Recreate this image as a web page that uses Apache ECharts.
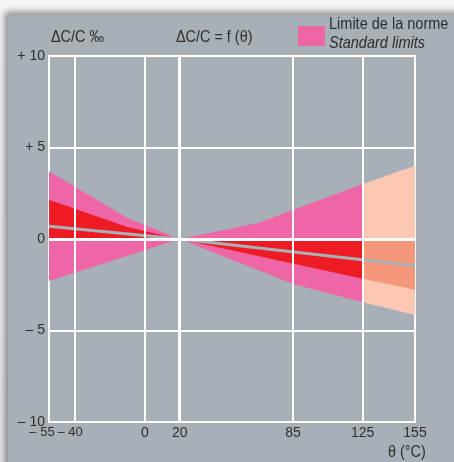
<!DOCTYPE html>
<html>
<head>
<meta charset="utf-8">
<script src="https://cdn.jsdelivr.net/npm/echarts@6/dist/echarts.min.js"></script>
<style>
  html, body { margin: 0; padding: 0; background: #f2f2f2; }
  #wrap { position: relative; width: 454px; height: 462px; overflow: hidden;
          background: linear-gradient(#f6f6f6, #e6e6e6); }
  #panel { position: absolute; left: 8px; top: 15px; width: 460px; height: 460px;
           background: #a8b0b7; box-shadow: -3px -3px 7px rgba(0,0,0,0.45); }
  #chart { position: absolute; left: 0; top: 0; width: 454px; height: 462px; }
</style>
</head>
<body>
<div id="wrap"><div id="panel"></div><div id="chart"></div></div>
<script>
// Temperature characteristic of capacitance drift, ΔC/C (‰) vs θ (°C)
const xTicks = [-55, -40, 0, 20, 85, 125, 155];
const xGridLines = [-40, 0, 85, 125];
const yTicks = [-10, -5, 0, 5, 10];

// Standard limits (pink) over -55..125 °C
const limitUpper = [[-55, 3.7], [-10, 1.15], [20, 0], [65, 0.87], [125, 3.0]];
const limitLower = [[-55, -2.3], [20, 0], [85, -2.46], [125, -3.45]];
// Extended range limits (125..155 °C)
const limitUpperExt = [[125, 3.0], [155, 4.0]];
const limitLowerExt = [[125, -3.45], [155, -4.15]];
// Typical spread (red)
const typicalUpper = [[-55, 2.15], [-10, 0.66], [20, 0]];
const typicalLower = [[20, 0], [125, -2.17]];
const typicalLowerExt = [[125, -2.17], [155, -2.77]];
// Mean drift curve
const drift = [[-55, 0.7], [20, 0], [155, -1.46]];

const FONT = '"Liberation Sans", Arial, sans-serif';
const TEXT = '#2e2e2e';
const X_MIN = xTicks[0], X_MAX = xTicks[xTicks.length - 1];

function toBaseline(pts) { return pts.map(p => [p[0], 0]); }
function bandPoly(top, bottom) { return top.concat(bottom.slice().reverse()); }

const bands = [
  { color: '#ef66a7', poly: bandPoly(limitUpper, limitLower) },
  { color: '#fcc8b3', poly: bandPoly(limitUpperExt, limitLowerExt) },
  { color: '#ed1c24', poly: bandPoly(typicalUpper, toBaseline(typicalUpper)) },
  { color: '#ed1c24', poly: bandPoly(toBaseline(typicalLower), typicalLower) },
  { color: '#f5977a', poly: bandPoly(toBaseline(typicalLowerExt), typicalLowerExt) }
];

// Negative tick labels: the minus sign hangs to the left of the digits
const negLabelRich = {
  n55: { color: TEXT, fontFamily: FONT, fontSize: 13, padding: [0, 14, 0, 0] },
  n40: { color: TEXT, fontFamily: FONT, fontSize: 13, padding: [0, 10, 0, 0] }
};
function xLabel(v) {
  if (v < 0) return '{n' + (-v) + '|\u2013 ' + (-v) + '}';
  return String(v);
}

const xAxisBase = {
  type: 'value', min: X_MIN, max: X_MAX, position: 'bottom',
  axisLine: { show: false },
  axisTick: { show: false },
  splitLine: { show: false }
};

const chart = echarts.init(document.getElementById('chart'), null, { renderer: 'canvas' });

chart.setOption({
  backgroundColor: 'transparent',
  animation: false,
  grid: { left: 49, top: 56, right: 39, bottom: 40, show: true,
          borderColor: '#ffffff', borderWidth: 2, backgroundColor: 'transparent' },
  xAxis: [
    Object.assign({}, xAxisBase, {
      axisLabel: {
        customValues: xTicks.slice(1),
        showMinLabel: true, showMaxLabel: true, hideOverlap: false,
        color: TEXT, fontFamily: FONT, fontSize: 14, margin: 4,
        formatter: xLabel, rich: negLabelRich
      }
    }),
    // separate axis for the leftmost label so it sits beside its neighbour
    Object.assign({}, xAxisBase, {
      axisLabel: {
        customValues: xTicks.slice(0, 1),
        showMinLabel: true, hideOverlap: false,
        color: TEXT, fontFamily: FONT, fontSize: 14, margin: 4,
        formatter: xLabel, rich: negLabelRich
      }
    })
  ],
  yAxis: {
    type: 'value', min: -10, max: 10, interval: 5,
    axisLine: { show: false },
    axisTick: { show: false },
    splitLine: { show: true, lineStyle: { color: '#ffffff', width: 2 } },
    axisLabel: {
      color: TEXT, fontFamily: FONT, fontSize: 14, margin: 4,
      showMinLabel: true, showMaxLabel: true,
      formatter: v => (v > 0 ? '+ ' + v : v < 0 ? '\u2013 ' + (-v) : '0')
    }
  },
  graphic: [
    { type: 'text', x: 51, y: 30, scaleX: 0.9,
      style: { text: '\u0394C/C \u2030', fill: TEXT, font: '16px ' + FONT } },
    { type: 'text', x: 176, y: 30, scaleX: 0.9,
      style: { text: '\u0394C/C = f (\u03b8)', fill: TEXT, font: '16px ' + FONT } },
    { type: 'rect', shape: { x: 298, y: 26, width: 27, height: 20 },
      style: { fill: '#ef66a7' } },
    { type: 'text', x: 329, y: 16, scaleX: 0.88,
      style: { text: 'Limite de la norme', fill: TEXT, font: '16.5px ' + FONT } },
    { type: 'text', x: 329, y: 35, scaleX: 0.88,
      style: { text: 'Standard limits', fill: TEXT, font: 'italic 16.5px ' + FONT } },
    { type: 'text', x: 388, y: 445, scaleX: 0.9,
      style: { text: '\u03b8 (\u00b0C)', fill: TEXT, font: '16px ' + FONT } }
  ],
  series: [
    {
      // vertical temperature grid lines
      type: 'line', data: [], z: 1, silent: true,
      markLine: {
        silent: true, symbol: 'none', animation: false,
        label: { show: false },
        lineStyle: { color: '#ffffff', width: 2, type: 'solid' },
        data: xGridLines.map(x => ({ xAxis: x })).concat([
          { xAxis: 20, lineStyle: { color: '#ffffff', width: 3, type: 'solid' } }
        ])
      }
    },
    {
      type: 'custom', z: 2, silent: true,
      data: bands.map((b, i) => [b.poly[0][0], 0, i]),
      encode: { x: 0, y: 1 },
      clip: true,
      renderItem: function (params, api) {
        const band = bands[api.value(2)];
        return {
          type: 'polygon',
          shape: { points: band.poly.map(p => api.coord(p)) },
          style: { fill: band.color }
        };
      }
    },
    {
      type: 'line', z: 3, silent: true, data: drift,
      symbol: 'none',
      lineStyle: { color: '#a9b0b6', width: 3 }
    },
    {
      // zero line drawn above the bands
      type: 'line', data: [], z: 4, silent: true,
      markLine: {
        silent: true, symbol: 'none', animation: false,
        label: { show: false },
        lineStyle: { color: '#ffffff', width: 3, type: 'solid' },
        data: [{ yAxis: 0 }]
      }
    }
  ]
});
</script>
</body>
</html>
